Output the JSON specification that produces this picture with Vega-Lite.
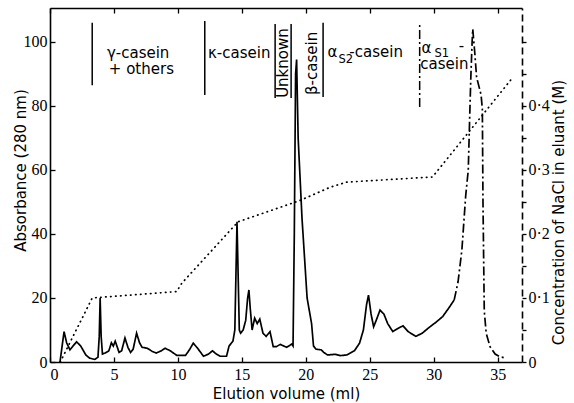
{
  "$schema": "https://vega.github.io/schema/vega-lite/v6.json",
  "width": 472,
  "height": 354,
  "autosize": {"type": "none"},
  "padding": {"left": 50, "top": 8, "right": 52, "bottom": 41},
  "config": {
    "font": "DejaVu Sans",
    "view": {"stroke": null},
    "axis": {
      "domainColor": "black",
      "domainWidth": 1.6,
      "tickColor": "black",
      "tickWidth": 1.3,
      "grid": false,
      "labelFont": "Liberation Sans Narrow",
      "labelFontSize": 16,
      "labelColor": "black",
      "titleFont": "DejaVu Sans",
      "titleFontSize": 15,
      "titleFontWeight": "normal",
      "titleColor": "black"
    }
  },
  "datasets": {
    "trace": [
      {"v": 0.78, "a": 0, "part": "main"}, {"v": 1.1, "a": 9.5, "part": "main"}, {"v": 1.3, "a": 6, "part": "main"},
      {"v": 1.56, "a": 3.8, "part": "main"}, {"v": 1.8, "a": 5, "part": "main"}, {"v": 2.08, "a": 6.3, "part": "main"},
      {"v": 2.4, "a": 5, "part": "main"}, {"v": 2.8, "a": 2.2, "part": "main"}, {"v": 3.1, "a": 1.2, "part": "main"},
      {"v": 3.5, "a": 0.8, "part": "main"}, {"v": 3.75, "a": 1.5, "part": "main"}, {"v": 3.85, "a": 8, "part": "main"},
      {"v": 3.92, "a": 20, "part": "main"}, {"v": 4.0, "a": 8, "part": "main"}, {"v": 4.1, "a": 2.5, "part": "main"},
      {"v": 4.3, "a": 2.8, "part": "main"}, {"v": 4.6, "a": 3.5, "part": "main"}, {"v": 4.8, "a": 6, "part": "main"},
      {"v": 4.95, "a": 5, "part": "main"}, {"v": 5.1, "a": 6.5, "part": "main"}, {"v": 5.4, "a": 3, "part": "main"},
      {"v": 5.6, "a": 3.5, "part": "main"}, {"v": 5.86, "a": 7.5, "part": "main"}, {"v": 6.1, "a": 4.5, "part": "main"},
      {"v": 6.3, "a": 3, "part": "main"}, {"v": 6.5, "a": 4, "part": "main"}, {"v": 6.77, "a": 9, "part": "main"},
      {"v": 7.0, "a": 6, "part": "main"}, {"v": 7.2, "a": 4.6, "part": "main"}, {"v": 7.6, "a": 4.3, "part": "main"},
      {"v": 8.0, "a": 3.3, "part": "main"}, {"v": 8.3, "a": 2.8, "part": "main"}, {"v": 8.7, "a": 3.5, "part": "main"},
      {"v": 9.0, "a": 4.3, "part": "main"}, {"v": 9.4, "a": 3.5, "part": "main"}, {"v": 9.9, "a": 2.1, "part": "main"},
      {"v": 10.6, "a": 2.1, "part": "main"}, {"v": 10.9, "a": 3.8, "part": "main"}, {"v": 11.2, "a": 5.9, "part": "main"},
      {"v": 11.5, "a": 4.5, "part": "main"}, {"v": 12.0, "a": 1.8, "part": "main"}, {"v": 12.4, "a": 2.5, "part": "main"},
      {"v": 12.7, "a": 3.5, "part": "main"}, {"v": 13.0, "a": 2.5, "part": "main"}, {"v": 13.3, "a": 1.8, "part": "main"},
      {"v": 13.8, "a": 1.8, "part": "main"}, {"v": 14.0, "a": 5, "part": "main"}, {"v": 14.3, "a": 6.5, "part": "main"},
      {"v": 14.45, "a": 10, "part": "main"}, {"v": 14.55, "a": 30, "part": "main"}, {"v": 14.62, "a": 43.8, "part": "main"},
      {"v": 14.72, "a": 25, "part": "main"}, {"v": 14.8, "a": 10, "part": "main"}, {"v": 14.9, "a": 9, "part": "main"},
      {"v": 15.1, "a": 10, "part": "main"}, {"v": 15.3, "a": 13, "part": "main"}, {"v": 15.45, "a": 20, "part": "main"},
      {"v": 15.55, "a": 22.5, "part": "main"}, {"v": 15.65, "a": 17, "part": "main"}, {"v": 15.8, "a": 10, "part": "main"},
      {"v": 16.0, "a": 13.7, "part": "main"}, {"v": 16.2, "a": 12, "part": "main"}, {"v": 16.4, "a": 13.4, "part": "main"},
      {"v": 16.65, "a": 9, "part": "main"}, {"v": 16.9, "a": 8, "part": "main"}, {"v": 17.2, "a": 9.5, "part": "main"},
      {"v": 17.45, "a": 4.8, "part": "main"}, {"v": 17.7, "a": 4.8, "part": "main"}, {"v": 18.0, "a": 5.5, "part": "main"},
      {"v": 18.5, "a": 4.6, "part": "main"}, {"v": 18.9, "a": 5.6, "part": "main"}, {"v": 19.0, "a": 5, "part": "main"},
      {"v": 19.1, "a": 40, "part": "main"}, {"v": 19.2, "a": 90, "part": "main"}, {"v": 19.28, "a": 94.5, "part": "main"},
      {"v": 19.4, "a": 70, "part": "main"}, {"v": 19.7, "a": 45, "part": "main"}, {"v": 20.1, "a": 20, "part": "main"},
      {"v": 20.45, "a": 12, "part": "main"}, {"v": 20.6, "a": 5, "part": "main"}, {"v": 20.8, "a": 4, "part": "main"},
      {"v": 21.2, "a": 3.8, "part": "main"}, {"v": 21.4, "a": 3, "part": "main"}, {"v": 21.7, "a": 2.2, "part": "main"},
      {"v": 22.3, "a": 2.4, "part": "main"}, {"v": 22.7, "a": 2.0, "part": "main"}, {"v": 23.2, "a": 2.2, "part": "main"},
      {"v": 23.8, "a": 3.5, "part": "main"}, {"v": 24.2, "a": 5.9, "part": "main"}, {"v": 24.5, "a": 10, "part": "main"},
      {"v": 24.75, "a": 18, "part": "main"}, {"v": 24.9, "a": 20.9, "part": "main"}, {"v": 25.1, "a": 15, "part": "main"},
      {"v": 25.3, "a": 11, "part": "main"}, {"v": 25.5, "a": 13, "part": "main"}, {"v": 25.8, "a": 16.2, "part": "main"},
      {"v": 26.1, "a": 15, "part": "main"}, {"v": 26.4, "a": 12, "part": "main"}, {"v": 26.8, "a": 9.5, "part": "main"},
      {"v": 27.2, "a": 10.5, "part": "main"}, {"v": 27.6, "a": 11.3, "part": "main"}, {"v": 28.0, "a": 9.5, "part": "main"},
      {"v": 28.6, "a": 8, "part": "main"}, {"v": 29.1, "a": 9, "part": "main"}, {"v": 29.7, "a": 11, "part": "main"},
      {"v": 30.2, "a": 12.5, "part": "main"}, {"v": 30.7, "a": 14.2, "part": "main"}, {"v": 31.2, "a": 17, "part": "main"},
      {"v": 31.6, "a": 19.4, "part": "main"},
      {"v": 31.6, "a": 19.4, "part": "alpha"}, {"v": 31.9, "a": 25, "part": "alpha"}, {"v": 32.2, "a": 35, "part": "alpha"},
      {"v": 32.5, "a": 52, "part": "alpha"}, {"v": 32.7, "a": 60, "part": "alpha"}, {"v": 32.8, "a": 75, "part": "alpha"},
      {"v": 32.9, "a": 89, "part": "alpha"}, {"v": 33.0, "a": 100, "part": "alpha"}, {"v": 33.05, "a": 104, "part": "alpha"},
      {"v": 33.2, "a": 97, "part": "alpha"}, {"v": 33.35, "a": 89, "part": "alpha"}, {"v": 33.7, "a": 83.5, "part": "alpha"},
      {"v": 33.8, "a": 79, "part": "alpha"}, {"v": 33.85, "a": 50, "part": "alpha"}, {"v": 33.95, "a": 16, "part": "alpha"},
      {"v": 34.1, "a": 9, "part": "alpha"}, {"v": 34.4, "a": 4.8, "part": "alpha"}, {"v": 34.8, "a": 2.5, "part": "alpha"},
      {"v": 35.2, "a": 1.6, "part": "alpha"}, {"v": 35.7, "a": 1.2, "part": "alpha"}
    ],
    "salt": [
      {"v": 0.8, "m": 0}, {"v": 3.3, "m": 0.1}, {"v": 9.9, "m": 0.11}, {"v": 10.3, "m": 0.123},
      {"v": 14.7, "m": 0.219}, {"v": 19.5, "m": 0.252}, {"v": 21.9, "m": 0.273}, {"v": 23.2, "m": 0.281},
      {"v": 29.9, "m": 0.289}, {"v": 36.2, "m": 0.445}
    ],
    "bars": [
      {"v": 3.3, "y1": 86.5, "y2": 106, "kind": "solid"},
      {"v": 12.1, "y1": 83.4, "y2": 106.5, "kind": "solid"},
      {"v": 17.6, "y1": 82.5, "y2": 105.6, "kind": "solid"},
      {"v": 18.85, "y1": 82.5, "y2": 105.6, "kind": "solid"},
      {"v": 21.35, "y1": 82.8, "y2": 106, "kind": "solid"},
      {"v": 28.9, "y1": 79.7, "y2": 106, "kind": "dashed"}
    ],
    "labels": [
      {"t": "γ-casein", "v": 4.45, "a": 96.5},
      {"t": "+ others", "v": 4.6, "a": 91.6},
      {"t": "κ-casein", "v": 12.35, "a": 96.5},
      {"t": "α", "v": 21.7, "a": 96.9},
      {"t": "-casein", "v": 23.4, "a": 96.9},
      {"t": "α", "v": 29.05, "a": 98.2},
      {"t": "-", "v": 31.95, "a": 98.6},
      {"t": "casein", "v": 28.95, "a": 93.2}
    ],
    "subs": [
      {"t": "S2", "v": 22.55, "a": 94.4},
      {"t": "S1", "v": 30.05, "a": 96.2}
    ],
    "vlabels": [
      {"t": "Unknown", "v": 18.2, "a": 93.4},
      {"t": "β-casein", "v": 20.45, "a": 93.3}
    ]
  },
  "layer": [
    {
      "layer": [
        {
          "data": {"name": "trace"},
          "mark": {"type": "line", "color": "black", "strokeWidth": 1.7},
          "encoding": {
            "x": {"field": "v", "type": "quantitative", "scale": {"domain": [0, 36.9], "nice": false},
              "axis": {"orient": "bottom", "values": [0, 5, 10, 15, 20, 25, 30, 35], "tickSize": -5, "labelPadding": 9, "title": "Elution volume (ml)", "titlePadding": 4}},
            "y": {"field": "a", "type": "quantitative", "scale": {"domain": [0, 110.6], "nice": false},
              "axis": {"orient": "left", "values": [0, 10, 20, 30, 40, 50, 60, 70, 80, 90, 100, 110], "labelExpr": "datum.value % 20 == 0 ? datum.label : ''", "tickSize": -5, "labelPadding": 8, "title": "Absorbance (280 nm)", "titleX": -30, "titleY": 162, "titleBaseline": "middle"}},
            "detail": {"field": "part"},
            "strokeDash": {"field": "part", "type": "nominal", "scale": {"domain": ["main", "alpha"], "range": [[1, 0], [9, 3, 2, 3]]}, "legend": null}
          }
        },
        {
          "data": {"name": "bars"},
          "mark": {"type": "rule", "color": "black", "strokeWidth": 1.5},
          "encoding": {
            "x": {"field": "v", "type": "quantitative"},
            "y": {"field": "y1", "type": "quantitative"},
            "y2": {"field": "y2"},
            "strokeDash": {"field": "kind", "type": "nominal", "scale": {"domain": ["solid", "dashed"], "range": [[1, 0], [14, 4]]}, "legend": null}
          }
        },
        {
          "data": {"name": "labels"},
          "mark": {"type": "text", "align": "left", "baseline": "middle", "fontSize": 15, "font": "DejaVu Sans", "color": "black"},
          "encoding": {
            "x": {"field": "v", "type": "quantitative"},
            "y": {"field": "a", "type": "quantitative"},
            "text": {"field": "t"}
          }
        },
        {
          "data": {"name": "subs"},
          "mark": {"type": "text", "align": "left", "baseline": "middle", "fontSize": 11.5, "font": "DejaVu Sans", "color": "black"},
          "encoding": {
            "x": {"field": "v", "type": "quantitative"},
            "y": {"field": "a", "type": "quantitative"},
            "text": {"field": "t"}
          }
        },
        {
          "data": {"name": "vlabels"},
          "mark": {"type": "text", "align": "center", "baseline": "middle", "angle": 270, "fontSize": 15, "font": "DejaVu Sans", "color": "black"},
          "encoding": {
            "x": {"field": "v", "type": "quantitative"},
            "y": {"field": "a", "type": "quantitative"},
            "text": {"field": "t"}
          }
        }
      ]
    },
    {
      "data": {"name": "salt"},
      "mark": {"type": "line", "color": "black", "strokeWidth": 1.7, "strokeDash": [0.5, 4.5], "strokeCap": "round"},
      "encoding": {
        "x": {"field": "v", "type": "quantitative", "scale": {"domain": [0, 36.9], "nice": false},
          "axis": {"orient": "top", "values": [0, 5, 10, 15, 20, 25, 30, 35], "labels": false, "tickSize": -5, "title": null}},
        "y": {"field": "m", "type": "quantitative", "scale": {"domain": [0, 0.553], "nice": false},
          "axis": {"orient": "right", "values": [0, 0.05, 0.1, 0.15, 0.2, 0.25, 0.3, 0.35, 0.4, 0.45, 0.5],
            "labelExpr": "datum.value == 0 ? '0' : (abs(datum.value * 10 - round(datum.value * 10)) < 0.001 && datum.value < 0.45 ? replace(format(datum.value, '.1f'), '.', '·') : '')",
            "tickSize": 4, "labelPadding": 2, "domainDash": [7, 4],
            "title": "Concentration of NaCl in eluant (M)", "titleAngle": 270, "titleX": 36, "titleY": 204, "titleBaseline": "middle"}}
      }
    }
  ],
  "resolve": {"scale": {"y": "independent"}, "axis": {"x": "independent"}}
}
